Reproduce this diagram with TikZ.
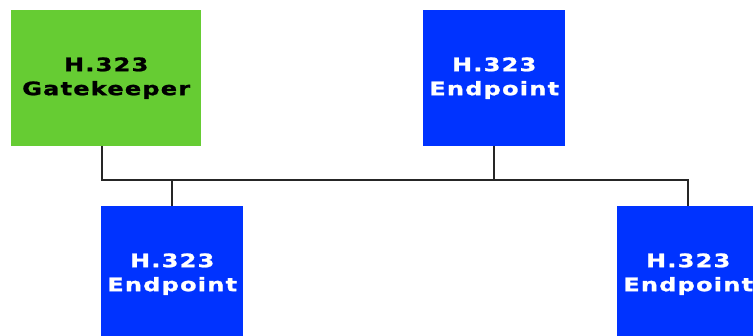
\documentclass[tikz,border=0pt]{standalone}
\usepackage{fontspec}
\newfontfamily\unitfont[FakeStretch=1.3,LetterSpace=6.5,FakeBold=1.2]{DejaVu Sans}
\definecolor{gkgreen}{RGB}{102,204,51}
\definecolor{epblue}{RGB}{0,51,255}
\begin{document}
\begin{tikzpicture}[x=1pt, y=-1pt]

\tikzstyle{unit}=[rectangle, inner sep=0pt, anchor=north west, minimum height=136pt, align=center, font=\unitfont\bfseries\fontsize{18.5}{24}\selectfont]
\tikzstyle{gatekeeper}=[unit, fill=gkgreen, text=black, minimum width=190pt]
\tikzstyle{endpoint}=[unit, fill=epblue, text=white, minimum width=142pt]
\tikzstyle{wire}=[line width=1.7pt, black!85]

\clip (0,0) rectangle (753,335);

\node (gk) [gatekeeper] at (11,10)  {H.323\\Gatekeeper};
\node (ep1) [endpoint]  at (423,10)  {H.323\\Endpoint};
\node (ep2) [endpoint]  at (101,206) {H.323\\Endpoint};
\node (ep3) [endpoint]  at (617,206) {H.323\\Endpoint};

% the shared bus
\coordinate (bus) at (0,180);

\draw [wire] ([xshift=-4.5pt]gk.south) |- (ep3.north |- bus) -- (ep3.north);
\draw [wire] (ep1.south) -- (ep1.south |- bus);
\draw [wire] (ep2.north) -- (ep2.north |- bus);

\end{tikzpicture}
\end{document}
